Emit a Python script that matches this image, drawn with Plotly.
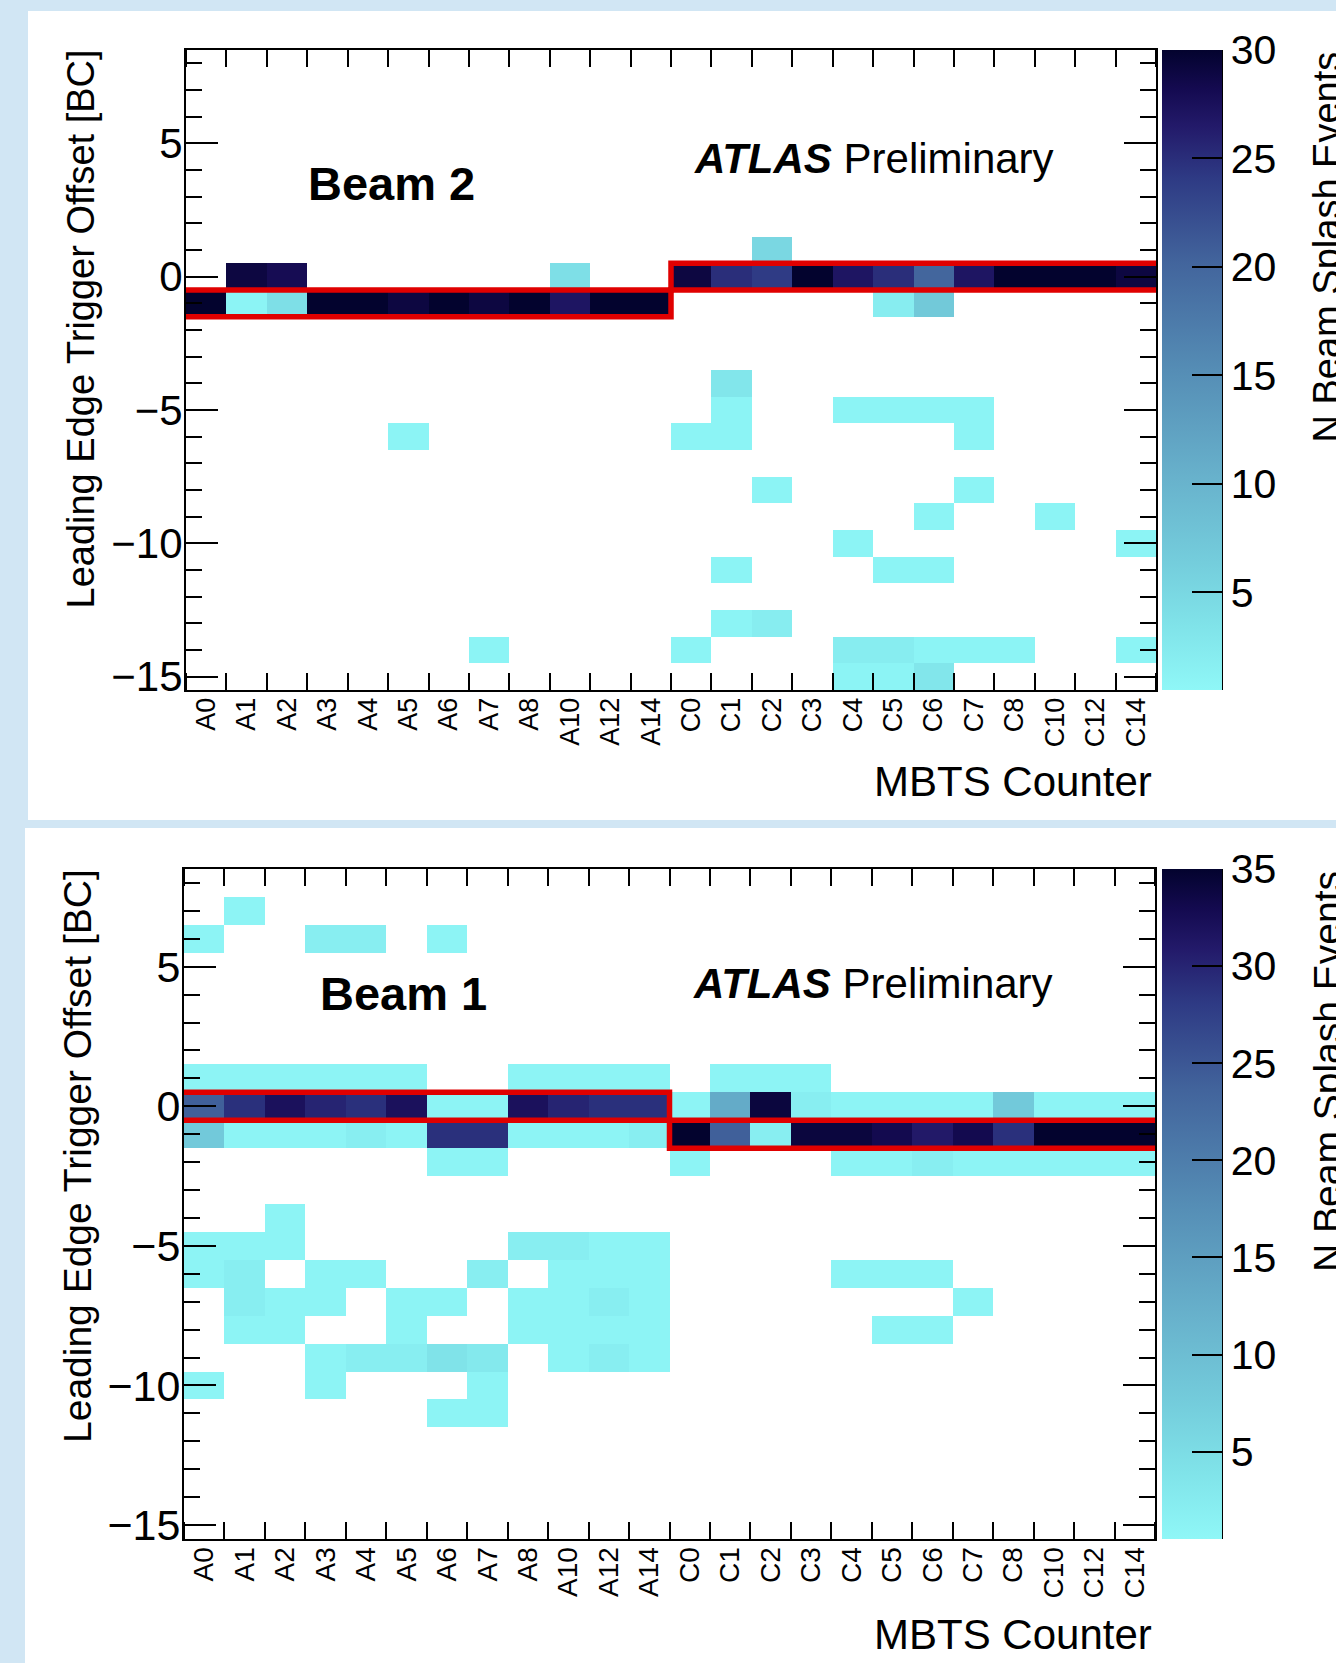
import plotly.graph_objects as go

W, H = 1336, 1663

# ---------------- data ----------------
counters = ["A0", "A1", "A2", "A3", "A4", "A5", "A6", "A7", "A8", "A10", "A12", "A14",
            "C0", "C1", "C2", "C3", "C4", "C5", "C6", "C7", "C8", "C10", "C12", "C14"]
offsets = [8, 7, 6, 5, 4, 3, 2, 1, 0, -1, -2, -3, -4, -5, -6, -7, -8, -9, -10, -11, -12, -13, -14, -15]

# rows follow `offsets`; columns follow `counters` (A side | C side)
beam2_counts = [
    [0, 0, 0, 0, 0, 0, 0, 0, 0, 0, 0, 0,    0, 0, 0, 0, 0, 0, 0, 0, 0, 0, 0, 0],   # 8
    [0, 0, 0, 0, 0, 0, 0, 0, 0, 0, 0, 0,    0, 0, 0, 0, 0, 0, 0, 0, 0, 0, 0, 0],   # 7
    [0, 0, 0, 0, 0, 0, 0, 0, 0, 0, 0, 0,    0, 0, 0, 0, 0, 0, 0, 0, 0, 0, 0, 0],   # 6
    [0, 0, 0, 0, 0, 0, 0, 0, 0, 0, 0, 0,    0, 0, 0, 0, 0, 0, 0, 0, 0, 0, 0, 0],   # 5
    [0, 0, 0, 0, 0, 0, 0, 0, 0, 0, 0, 0,    0, 0, 0, 0, 0, 0, 0, 0, 0, 0, 0, 0],   # 4
    [0, 0, 0, 0, 0, 0, 0, 0, 0, 0, 0, 0,    0, 0, 0, 0, 0, 0, 0, 0, 0, 0, 0, 0],   # 3
    [0, 0, 0, 0, 0, 0, 0, 0, 0, 0, 0, 0,    0, 0, 0, 0, 0, 0, 0, 0, 0, 0, 0, 0],   # 2
    [0, 0, 0, 0, 0, 0, 0, 0, 0, 0, 0, 0,    0, 0, 5, 0, 0, 0, 0, 0, 0, 0, 0, 0],   # 1
    [0, 29, 28, 0, 0, 0, 0, 0, 0, 4, 0, 0,  29, 25, 24, 30, 27, 25, 20, 27, 30, 30, 30, 29],  # 0
    [30, 1, 4, 30, 30, 29, 30, 29, 30, 27, 30, 30,  0, 0, 0, 0, 0, 2, 7, 0, 0, 0, 0, 0],     # -1
    [0, 0, 0, 0, 0, 0, 0, 0, 0, 0, 0, 0,    0, 0, 0, 0, 0, 0, 0, 0, 0, 0, 0, 0],   # -2
    [0, 0, 0, 0, 0, 0, 0, 0, 0, 0, 0, 0,    0, 0, 0, 0, 0, 0, 0, 0, 0, 0, 0, 0],   # -3
    [0, 0, 0, 0, 0, 0, 0, 0, 0, 0, 0, 0,    0, 3, 0, 0, 0, 0, 0, 0, 0, 0, 0, 0],   # -4
    [0, 0, 0, 0, 0, 0, 0, 0, 0, 0, 0, 0,    0, 1, 0, 0, 1, 1, 1, 1, 0, 0, 0, 0],   # -5
    [0, 0, 0, 0, 0, 1, 0, 0, 0, 0, 0, 0,    1, 1, 0, 0, 0, 0, 0, 1, 0, 0, 0, 0],   # -6
    [0, 0, 0, 0, 0, 0, 0, 0, 0, 0, 0, 0,    0, 0, 0, 0, 0, 0, 0, 0, 0, 0, 0, 0],   # -7
    [0, 0, 0, 0, 0, 0, 0, 0, 0, 0, 0, 0,    0, 0, 1, 0, 0, 0, 0, 1, 0, 0, 0, 0],   # -8
    [0, 0, 0, 0, 0, 0, 0, 0, 0, 0, 0, 0,    0, 0, 0, 0, 0, 0, 1, 0, 0, 1, 0, 0],   # -9
    [0, 0, 0, 0, 0, 0, 0, 0, 0, 0, 0, 0,    0, 0, 0, 0, 1, 0, 0, 0, 0, 0, 0, 1],   # -10
    [0, 0, 0, 0, 0, 0, 0, 0, 0, 0, 0, 0,    0, 1, 0, 0, 0, 1, 1, 0, 0, 0, 0, 0],   # -11
    [0, 0, 0, 0, 0, 0, 0, 0, 0, 0, 0, 0,    0, 0, 0, 0, 0, 0, 0, 0, 0, 0, 0, 0],   # -12
    [0, 0, 0, 0, 0, 0, 0, 0, 0, 0, 0, 0,    0, 1, 2, 0, 0, 0, 0, 0, 0, 0, 0, 0],   # -13
    [0, 0, 0, 0, 0, 0, 0, 1, 0, 0, 0, 0,    1, 0, 0, 0, 2, 2, 1, 1, 1, 0, 0, 1],   # -14
    [0, 0, 0, 0, 0, 0, 0, 0, 0, 0, 0, 0,    0, 0, 0, 0, 1, 1, 3, 0, 0, 0, 0, 0],   # -15
]

beam1_counts = [
    [0, 0, 0, 0, 0, 0, 0, 0, 0, 0, 0, 0,    0, 0, 0, 0, 0, 0, 0, 0, 0, 0, 0, 0],   # 8
    [0, 1, 0, 0, 0, 0, 0, 0, 0, 0, 0, 0,    0, 0, 0, 0, 0, 0, 0, 0, 0, 0, 0, 0],   # 7
    [1, 0, 0, 2, 2, 0, 1, 0, 0, 0, 0, 0,    0, 0, 0, 0, 0, 0, 0, 0, 0, 0, 0, 0],   # 6
    [0, 0, 0, 0, 0, 0, 0, 0, 0, 0, 0, 0,    0, 0, 0, 0, 0, 0, 0, 0, 0, 0, 0, 0],   # 5
    [0, 0, 0, 0, 0, 0, 0, 0, 0, 0, 0, 0,    0, 0, 0, 0, 0, 0, 0, 0, 0, 0, 0, 0],   # 4
    [0, 0, 0, 0, 0, 0, 0, 0, 0, 0, 0, 0,    0, 0, 0, 0, 0, 0, 0, 0, 0, 0, 0, 0],   # 3
    [0, 0, 0, 0, 0, 0, 0, 0, 0, 0, 0, 0,    0, 0, 0, 0, 0, 0, 0, 0, 0, 0, 0, 0],   # 2
    [1, 1, 1, 1, 1, 1, 0, 0, 1, 1, 1, 1,    0, 1, 1, 1, 0, 0, 0, 0, 0, 0, 0, 0],   # 1
    [24, 29, 32, 30, 29, 32, 1, 1, 32, 30, 29, 29,  1, 13, 34, 2, 1, 1, 1, 1, 8, 1, 1, 1],     # 0
    [8, 1, 1, 1, 2, 1, 29, 29, 1, 1, 1, 2,  35, 24, 2, 34, 34, 33, 31, 33, 29, 35, 35, 35],    # -1
    [0, 0, 0, 0, 0, 0, 1, 1, 0, 0, 0, 0,    1, 0, 0, 0, 1, 1, 2, 1, 1, 1, 1, 1],   # -2
    [0, 0, 0, 0, 0, 0, 0, 0, 0, 0, 0, 0,    0, 0, 0, 0, 0, 0, 0, 0, 0, 0, 0, 0],   # -3
    [0, 0, 1, 0, 0, 0, 0, 0, 0, 0, 0, 0,    0, 0, 0, 0, 0, 0, 0, 0, 0, 0, 0, 0],   # -4
    [1, 1, 1, 0, 0, 0, 0, 0, 2, 2, 1, 1,    0, 0, 0, 0, 0, 0, 0, 0, 0, 0, 0, 0],   # -5
    [1, 2, 0, 1, 1, 0, 0, 2, 0, 1, 1, 1,    0, 0, 0, 0, 1, 1, 1, 0, 0, 0, 0, 0],   # -6
    [0, 2, 1, 1, 0, 1, 1, 0, 1, 1, 2, 1,    0, 0, 0, 0, 0, 0, 0, 1, 0, 0, 0, 0],   # -7
    [0, 1, 1, 0, 0, 1, 0, 0, 1, 1, 1, 1,    0, 0, 0, 0, 0, 1, 1, 0, 0, 0, 0, 0],   # -8
    [0, 0, 0, 1, 2, 2, 4, 3, 0, 1, 2, 1,    0, 0, 0, 0, 0, 0, 0, 0, 0, 0, 0, 0],   # -9
    [1, 0, 0, 1, 0, 0, 0, 1, 0, 0, 0, 0,    0, 0, 0, 0, 0, 0, 0, 0, 0, 0, 0, 0],   # -10
    [0, 0, 0, 0, 0, 0, 1, 1, 0, 0, 0, 0,    0, 0, 0, 0, 0, 0, 0, 0, 0, 0, 0, 0],   # -11
    [0, 0, 0, 0, 0, 0, 0, 0, 0, 0, 0, 0,    0, 0, 0, 0, 0, 0, 0, 0, 0, 0, 0, 0],   # -12
    [0, 0, 0, 0, 0, 0, 0, 0, 0, 0, 0, 0,    0, 0, 0, 0, 0, 0, 0, 0, 0, 0, 0, 0],   # -13
    [0, 0, 0, 0, 0, 0, 0, 0, 0, 0, 0, 0,    0, 0, 0, 0, 0, 0, 0, 0, 0, 0, 0, 0],   # -14
    [0, 0, 0, 0, 0, 0, 0, 0, 0, 0, 0, 0,    0, 0, 0, 0, 0, 0, 0, 0, 0, 0, 0, 0],   # -15
]

# expected trigger offset window (red box) per side
beam2_expected = {"A": -1, "C": 0}
beam1_expected = {"A": 0, "C": -1}

colorbar_ticks_beam2 = [5, 10, 15, 20, 25, 30]
colorbar_ticks_beam1 = [5, 10, 15, 20, 25, 30, 35]
z_range_beam2 = [0.5, 30]
z_range_beam1 = [0.5, 35]
y_ticks = [-15, -10, -5, 0, 5]

# ---------------- styling ----------------
FONT = "Liberation Sans, Arial, Helvetica, sans-serif"
colorscale = [
    [0.0, "#8ff7f7"], [0.1, "#80e3e9"], [0.2, "#74cddc"], [0.33, "#68b2cc"],
    [0.5, "#558db5"], [0.67, "#42649c"], [0.8, "#2e3a84"], [0.88, "#231a6a"],
    [0.94, "#140a50"], [1.0, "#03032e"],
]


def fx(px):
    return px / W


def fy(py):
    return 1 - py / H


def masked(rows):
    return [[(v if v > 0 else None) for v in r] for r in rows]


n_a = sum(1 for c in counters if c.startswith("A"))
n_tot = len(counters)
idx = list(range(n_tot))


def window_paths(exp):
    a, c = exp["A"], exp["C"]
    xs = [-0.5, n_a - 0.5, n_a - 0.5, n_tot - 0.5]
    upper = [a + 0.5, a + 0.5, c + 0.5, c + 0.5]
    lower = [a - 0.5, a - 0.5, c - 0.5, c - 0.5]
    return xs, upper, lower


panels = [
    dict(counts=beam2_counts, exp=beam2_expected, zr=z_range_beam2, cticks=colorbar_ticks_beam2,
         xd=(186, 1156), yd=(50, 690), label="Beam 2", xa="x", ya="y",
         beam_pos=(306, 183), atlas_pos=(692, 159), ytitle_x=80, xtitle_y=781,
         cb_title_size=38, ytitle_size=38, ytick_size=42, xtick_size=27),
    dict(counts=beam1_counts, exp=beam1_expected, zr=z_range_beam1, cticks=colorbar_ticks_beam1,
         xd=(184, 1155), yd=(869, 1539), label="Beam 1", xa="x2", ya="y2",
         beam_pos=(318, 993), atlas_pos=(691, 983), ytitle_x=77, xtitle_y=1634,
         cb_title_size=39, ytitle_size=39, ytick_size=43, xtick_size=28),
]

fig = go.Figure()
annotations = []
shapes = [
    dict(type="rect", xref="paper", yref="paper", x0=fx(28), x1=1.0, y0=fy(820), y1=fy(11),
         fillcolor="white", line=dict(width=0), layer="below"),
    dict(type="rect", xref="paper", yref="paper", x0=fx(25), x1=1.0, y0=0.0, y1=fy(828),
         fillcolor="white", line=dict(width=0), layer="below"),
]

for p in panels:
    x0, x1 = p["xd"]
    y0, y1 = p["yd"]
    fig.add_trace(go.Heatmap(
        x=idx, y=offsets, z=masked(p["counts"]), xaxis=p["xa"], yaxis=p["ya"],
        colorscale=colorscale, zmin=p["zr"][0], zmax=p["zr"][1], hoverongaps=False,
        colorbar=dict(
            x=fx(1162), xanchor="left", xpad=0, y=fy(y0), yanchor="top", ypad=0,
            thickness=60, thicknessmode="pixels", len=y1 - y0, lenmode="pixels",
            outlinewidth=0, ticks="inside", ticklen=30, tickwidth=2, tickcolor="black",
            tickmode="array", tickvals=p["cticks"],
            tickfont=dict(family=FONT, size=41, color="black"),
        ),
    ))
    xs, up, lo = window_paths(p["exp"])
    for ys in (up, lo):
        fig.add_trace(go.Scatter(x=xs, y=ys, mode="lines", xaxis=p["xa"], yaxis=p["ya"],
                                 line=dict(color="#e00000", width=5.5), showlegend=False,
                                 hoverinfo="skip"))
    # colorbar right edge line
    shapes.append(dict(type="line", xref="paper", yref="paper", x0=fx(1222), x1=fx(1222),
                       y0=fy(y1), y1=fy(y0), line=dict(color="black", width=2)))
    annotations += [
        dict(text="<b>" + p["label"] + "</b>", xref="paper", yref="paper",
             x=fx(p["beam_pos"][0]), y=fy(p["beam_pos"][1]), xanchor="left", yanchor="middle",
             showarrow=False, font=dict(family=FONT, size=47, color="black")),
        dict(text="<b><i>ATLAS</i></b> Preliminary", xref="paper", yref="paper",
             x=fx(p["atlas_pos"][0]), y=fy(p["atlas_pos"][1]), xanchor="left", yanchor="middle",
             showarrow=False, font=dict(family=FONT, size=42, color="black")),
        dict(text="Leading Edge Trigger Offset [BC]", xref="paper", yref="paper",
             x=fx(p["ytitle_x"]), y=fy(y0 - 2), xanchor="center", yanchor="top", textangle=-90,
             showarrow=False, font=dict(family=FONT, size=p["ytitle_size"], color="black")),
        dict(text="MBTS Counter", xref="paper", yref="paper",
             x=fx(1154), y=fy(p["xtitle_y"]), xanchor="right", yanchor="middle",
             showarrow=False, font=dict(family=FONT, size=42, color="black")),
        dict(text="N Beam Splash Events", xref="paper", yref="paper",
             x=fx(1304), y=fy(y0), xanchor="left", yanchor="top", textangle=-90,
             showarrow=False, font=dict(family=FONT, size=p["cb_title_size"], color="black")),
    ]

axis_common_x = dict(
    range=[-0.5, n_tot - 0.5], tickmode="array", tickvals=idx, ticktext=counters,
    ticks="", tickangle=-90, ticklabelstandoff=-5,
    showline=True, linecolor="black", linewidth=2, mirror="allticks",
    showgrid=False, zeroline=False,
    minor=dict(ticks="inside", ticklen=17, tickwidth=2, tickcolor="black",
               tickmode="linear", tick0=-0.5, dtick=1, showgrid=False),
)
axis_common_y = dict(
    range=[-15.5, 8.5], tickmode="array", tickvals=y_ticks,
    ticks="inside", ticklen=32, tickwidth=2, tickcolor="black", ticklabelstandoff=-7,
    showline=True, linecolor="black", linewidth=2, mirror="allticks",
    showgrid=False, zeroline=False,
    minor=dict(ticks="inside", ticklen=16, tickwidth=2, tickcolor="black",
               tickmode="linear", tick0=0, dtick=1, showgrid=False),
)

layout_axes = {}
for i, p in enumerate(panels):
    sfx = "" if i == 0 else str(i + 1)
    x0, x1 = p["xd"]
    y0, y1 = p["yd"]
    layout_axes["xaxis" + sfx] = dict(
        axis_common_x, domain=[fx(x0), fx(x1)], anchor="y" + sfx,
        tickfont=dict(family=FONT, size=p["xtick_size"], color="black"))
    layout_axes["yaxis" + sfx] = dict(
        axis_common_y, domain=[fy(y1), fy(y0)], anchor="x" + sfx,
        tickfont=dict(family=FONT, size=p["ytick_size"], color="black"))

fig.update_layout(
    width=W, height=H, margin=dict(l=0, r=0, t=0, b=0, autoexpand=False),
    paper_bgcolor="#d1e6f4", plot_bgcolor="white", showlegend=False,
    font=dict(family=FONT, color="black"),
    annotations=annotations, shapes=shapes, **layout_axes,
)

fig.write_html("out.html")
